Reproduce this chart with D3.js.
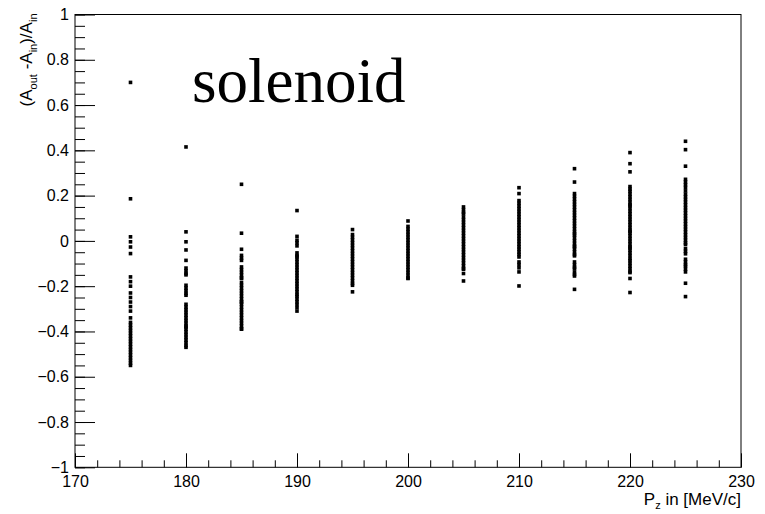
<!DOCTYPE html>
<html>
<head>
<meta charset="utf-8">
<script src="https://cdn.jsdelivr.net/npm/d3@7"></script>
<style>
  body { margin: 0; background: #fff; }
  svg { display: block; }
</style>
</head>
<body>
<svg></svg>
<script>
// momentum settings (MeV/c) and asymmetry values
let momenta = [175, 180, 185, 190, 195, 200, 205, 210, 215, 220, 225];

let asym175 = [0.70, 0.186, 0.018, -0.004, -0.027, -0.056, -0.159, -0.18, -0.20, -0.23, -0.25, -0.27, -0.29, -0.31, -0.34,
  -0.36, -0.372, -0.384, -0.396, -0.408, -0.42, -0.432, -0.444, -0.456, -0.468, -0.48, -0.492, -0.504, -0.516, -0.528, -0.54, -0.55];
let asym180 = [0.415, 0.04, -0.004, -0.04, -0.086, -0.12, -0.132, -0.144, -0.15, -0.196, -0.208, -0.22, -0.232, -0.24,
  -0.28, -0.292, -0.304, -0.316, -0.328, -0.34, -0.352, -0.364, -0.376, -0.38, -0.39, -0.402, -0.414, -0.426, -0.438, -0.45, -0.462, -0.47];
let asym185 = [0.25, 0.034, -0.037, -0.064, -0.076, -0.086, -0.115, -0.127, -0.139, -0.151, -0.163, -0.166, -0.184, -0.196,
  -0.208, -0.22, -0.232, -0.244, -0.256, -0.268, -0.27, -0.28, -0.292, -0.304, -0.316, -0.328, -0.34, -0.352, -0.364, -0.376, -0.388, -0.39];
let asym190 = [0.134, 0.02, 0.003, -0.009, -0.022, -0.053, -0.065, -0.07, -0.081, -0.093, -0.105, -0.117, -0.129, -0.141,
  -0.153, -0.165, -0.177, -0.189, -0.201, -0.213, -0.225, -0.237, -0.245, -0.257, -0.269, -0.281, -0.295, -0.31];
let asym195 = [0.05, 0.028, 0.016, 0.004, -0.008, -0.02, -0.032, -0.044, -0.056, -0.068, -0.08, -0.092, -0.104, -0.116,
  -0.128, -0.14, -0.152, -0.164, -0.176, -0.188, -0.196, -0.225];
let asym200 = [0.088, 0.064, 0.052, 0.04, 0.028, 0.016, 0.004, -0.008, -0.02, -0.032, -0.044, -0.056, -0.068, -0.08,
  -0.092, -0.104, -0.116, -0.128, -0.14, -0.152, -0.164, -0.166];
let asym205 = [0.15, 0.138, 0.126, 0.12, 0.106, 0.094, 0.082, 0.07, 0.058, 0.046, 0.034, 0.022, 0.01, -0.002, -0.014,
  -0.026, -0.038, -0.05, -0.062, -0.074, -0.086, -0.098, -0.11, -0.122, -0.125, -0.144, -0.177];
let asym210 = [0.235, 0.209, 0.178, 0.166, 0.154, 0.142, 0.13, 0.118, 0.106, 0.094, 0.082, 0.07, 0.058, 0.046, 0.034,
  0.022, 0.01, -0.002, -0.014, -0.026, -0.037, -0.049, -0.06, -0.071, -0.093, -0.105, -0.119, -0.137, -0.199];
let asym215 = [0.319, 0.26, 0.209, 0.197, 0.185, 0.173, 0.161, 0.149, 0.137, 0.125, 0.113, 0.101, 0.089, 0.077, 0.065,
  0.053, 0.041, 0.032, 0.025, 0.013, 0.001, -0.011, -0.023, -0.026, -0.037, -0.049, -0.06, -0.066, -0.093, -0.105,
  -0.117, -0.122, -0.137, -0.148, -0.155, -0.214];
let asym220 = [0.39, 0.341, 0.305, 0.24, 0.229, 0.219, 0.207, 0.195, 0.183, 0.171, 0.159, 0.155, 0.143, 0.131, 0.119,
  0.107, 0.095, 0.083, 0.071, 0.059, 0.047, 0.042, 0.034, 0.022, 0.01, -0.002, -0.014, -0.026, -0.031, -0.041, -0.053,
  -0.065, -0.078, -0.087, -0.099, -0.111, -0.123, -0.135, -0.14, -0.166, -0.228];
let asym225 = [0.44, 0.403, 0.33, 0.272, 0.26, 0.248, 0.236, 0.221, 0.207, 0.195, 0.183, 0.171, 0.159, 0.147, 0.135,
  0.123, 0.111, 0.099, 0.087, 0.075, 0.063, 0.051, 0.039, 0.027, 0.015, 0.003, -0.009, -0.016, -0.034, -0.046, -0.057,
  -0.081, -0.093, -0.105, -0.112, -0.125, -0.137, -0.187, -0.246];

let asymByMomentum = [asym175, asym180, asym185, asym190, asym195, asym200, asym205, asym210, asym215, asym220, asym225];

let xTicks = [170, 180, 190, 200, 210, 220, 230];
let xTickLabels = ['170', '180', '190', '200', '210', '220', '230'];
let yTicks = [-1, -0.8, -0.6, -0.4, -0.2, 0, 0.2, 0.4, 0.6, 0.8, 1];
let yTickLabels = ['\u22121', '\u22120.8', '\u22120.6', '\u22120.4', '\u22120.2', '0', '0.2', '0.4', '0.6', '0.8', '1'];

let width = 765;
let height = 514;
let frameLeft = 75, frameRight = 741, frameTop = 14.5, frameBottom = 467.3;
let markerSize = 3.6;

let svg = d3.select('svg').attr('width', width).attr('height', height);

let xScale = d3.scaleLinear().domain([170, 230]).range([frameLeft, frameRight]);
let yScale = d3.scaleLinear().domain([-1, 1]).range([frameBottom, frameTop]);

let points = [];
momenta.forEach((p, i) => {
  asymByMomentum[i].forEach(a => points.push({ p: p, a: a }));
});

let drawAxes = () => {
  // minor ticks first
  let xMinor = d3.axisBottom(xScale).ticks(30).tickSize(-7).tickFormat('');
  let yMinor = d3.axisLeft(yScale).ticks(40).tickSize(-10).tickFormat('');

  svg.append('g').
  attr('transform', 'translate(0,' + frameBottom + ')').
  call(xMinor);

  svg.append('g').
  attr('transform', 'translate(' + frameLeft + ',0)').
  call(yMinor);

  let xAxis = d3.axisBottom(xScale).tickValues(xTicks).tickSize(-14).tickPadding(8).
  tickFormat((d, i) => xTickLabels[i]);
  let yAxis = d3.axisLeft(yScale).tickValues(yTicks).tickSize(-20).tickPadding(6).
  tickFormat((d, i) => yTickLabels[i]);

  svg.append('g').
  attr('class', 'x-axis').
  attr('transform', 'translate(0,' + frameBottom + ')').
  call(xAxis);

  svg.append('g').
  attr('class', 'y-axis').
  attr('transform', 'translate(' + frameLeft + ',0)').
  call(yAxis);

  svg.selectAll('.domain').remove();
  svg.selectAll('.tick line').attr('stroke', '#000').attr('stroke-width', 1);
  svg.selectAll('.tick text').
  attr('fill', '#000').
  style('font-family', '"Liberation Sans", Arial, sans-serif').
  style('font-size', '16px');

  svg.append('rect').
  attr('x', frameLeft).
  attr('y', frameTop).
  attr('width', frameRight - frameLeft).
  attr('height', frameBottom - frameTop).
  attr('fill', 'none').
  attr('stroke', '#000').
  attr('stroke-width', 1);
};

let drawPoints = () => {
  svg.append('g').
  selectAll('rect').
  data(points).
  enter().
  append('rect').
  attr('x', d => xScale(d.p) - markerSize / 2).
  attr('y', d => yScale(d.a) - markerSize / 2).
  attr('width', markerSize).
  attr('height', markerSize).
  attr('fill', '#000');
};

let drawLabels = () => {
  let xt = svg.append('text').
  attr('x', frameRight).
  attr('y', 505).
  attr('text-anchor', 'end').
  style('font-family', '"Liberation Sans", Arial, sans-serif').
  style('font-size', '17px');
  xt.append('tspan').text('P');
  xt.append('tspan').attr('dy', 4).style('font-size', '11px').text('z');
  xt.append('tspan').attr('dy', -4).text(' in [MeV/c]');

  let yt = svg.append('text').
  attr('transform', 'translate(32,' + (frameTop - 1) + ') rotate(-90)').
  attr('text-anchor', 'end').
  style('font-family', '"Liberation Sans", Arial, sans-serif').
  style('font-size', '17px');
  yt.append('tspan').text('(A');
  yt.append('tspan').attr('dy', 5).style('font-size', '11px').text('out');
  yt.append('tspan').attr('dy', -5).text(' -A');
  yt.append('tspan').attr('dy', 5).style('font-size', '11px').text('in');
  yt.append('tspan').attr('dy', -5).text(')/A');
  yt.append('tspan').attr('dy', 5).style('font-size', '11px').text('in');

  svg.append('text').
  attr('x', 192).
  attr('y', 102).
  style('font-family', '"Liberation Serif", "Times New Roman", serif').
  style('font-size', '63px').
  attr('fill', '#000').
  text('solenoid');
};

drawAxes();
drawPoints();
drawLabels();
</script>
</body>
</html>
